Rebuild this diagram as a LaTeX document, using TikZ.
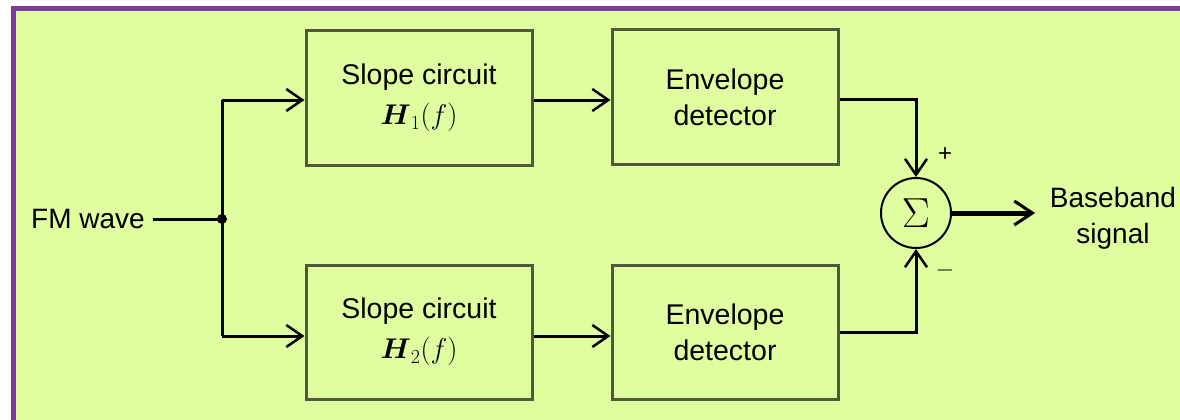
\RequirePackage{fix-cm}
\documentclass[tikz,border=0pt]{standalone}
\usepackage{amsmath}
\usepackage{fontspec}
\setmainfont{Liberation Sans}
\usetikzlibrary{arrows.meta}
\definecolor{bgfill}{HTML}{E0FDA0}
\definecolor{frame}{HTML}{7A3A9E}
\definecolor{boxline}{HTML}{4F5A3A}
\begin{document}
\begin{tikzpicture}[x=1pt,y=-1pt,
  blk/.style={draw=boxline,line width=3pt,minimum width=226pt,minimum height=134pt,
    align=center,inner sep=0pt,font=\fontsize{28.5}{36}\selectfont},
  wire/.style={line width=3pt,draw=black},
  tip/.style={-{Straight Barb[length=16pt,width=22pt,line width=2.5pt]}},
  lbl/.style={font=\fontsize{28}{36}\selectfont,align=center,inner sep=0pt}]
\useasboundingbox (0,0) rectangle (1180,420);
\begin{scope}
\clip (0,0) rectangle (1180,420);
\draw[draw=frame,fill=bgfill,line width=5.5pt] (13.5,8.75) rectangle (1200,440);
\end{scope}
% blocks
\node[blk] (s1) at (419,98) {Slope circuit\\[4pt]$\boldsymbol{H}_1(f)$};
\node[blk] (e1) at (725,97) {Envelope\\detector};
\node[blk] (s2) at (419,332) {Slope circuit\\[4pt]$\boldsymbol{H}_2(f)$};
\node[blk] (e2) at (725,332) {Envelope\\detector};
\node[draw=black,line width=2pt,circle,minimum size=70pt,inner sep=0pt] (sum) at (916,213)
  {\fontsize{42}{42}\selectfont$\Sigma$};
% labels
\node[lbl,anchor=east] (fm) at (145,219) {FM wave};
\node[lbl] (bb) at (1113,218) {Baseband\\signal};
\node[font=\fontsize{24}{24}\selectfont] (plus) at (945,155) {+};
\node[font=\fontsize{24}{24}\selectfont] (minus) at (945,270) {$-$};
% junction
\coordinate (j) at (222,219);
\coordinate (jt) at (222,100);
\coordinate (jb) at (222,336);
\fill (j) circle (5pt);
\draw[wire] (fm.east) ++(8pt,0) -- (j);
\draw[wire] (jt) -- (jb);
\draw[wire,tip] (jt) -- (s1.west |- jt);
\draw[wire,tip] (jb) -- (s2.west |- jb);
\draw[wire,tip] (s1.east |- 0,100) -- (e1.west |- 0,100);
\draw[wire,tip] (s2.east |- 0,336) -- (e2.west |- 0,336);
\draw[wire,tip] (e1.east |- 0,99) -| (sum.north);
\draw[wire,tip] (e2.east |- 0,332) -| (sum.south);
\coordinate (out) at (1035,213);
\draw[line width=5pt,-{Straight Barb[length=18pt,width=24pt,line width=3pt]}] (sum.east) -- (out);
\end{tikzpicture}
\end{document}
